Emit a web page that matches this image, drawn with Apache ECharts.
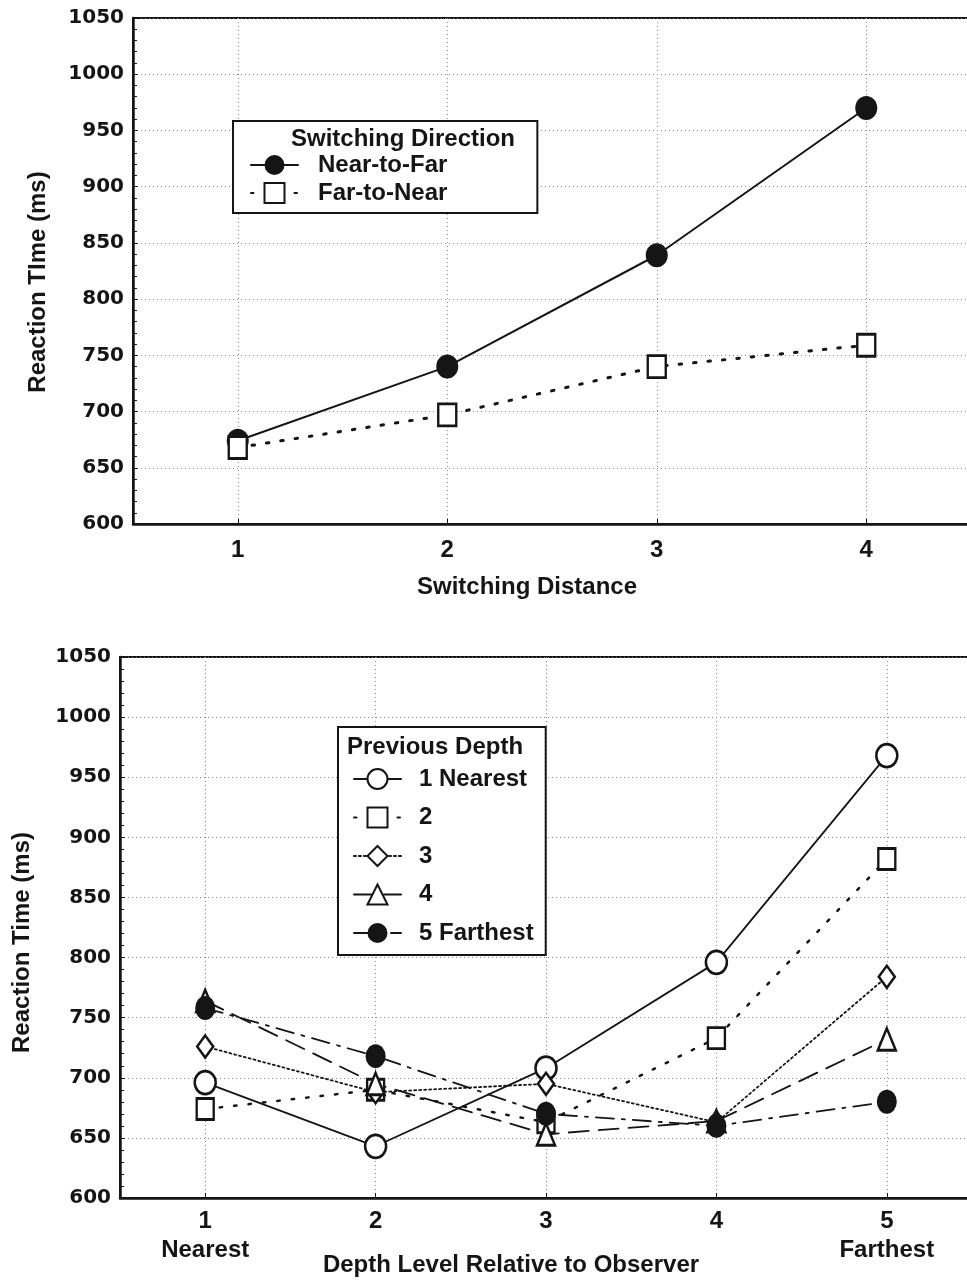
<!DOCTYPE html>
<html><head><meta charset="utf-8">
<script src="https://cdn.jsdelivr.net/npm/echarts@6/dist/echarts.min.js"></script>
<style>html,body{margin:0;padding:0;background:#fff}#c{width:967px;height:1280px}</style>
</head><body><div id="c"></div>
<script>
// ---- data ----
const switchDistances = [1, 2, 3, 4];
const nearToFar = [674, 740, 839, 970];
const farToNear = [668, 697, 740, 759];

const depthLevels = [1, 2, 3, 4, 5];
const depthTickNumbers = ['1', '2', '3', '4', '5'];
const depthTickWords = ['Nearest', '', '', '', 'Farthest'];
const prevDepth1 = [696, 643, 708, 796, 968];
const prevDepth2 = [674, 690, 663, 733, 882];
const prevDepth3 = [726, 688, 695, 663, 784];
const prevDepth4 = [764, 695, 653, 664, 732];
const prevDepth5 = [758, 718, 670, 660, 680];

const topSeriesNames = ['Near-to-Far', 'Far-to-Near'];
const bottomSeriesNames = ['1 Nearest', '2', '3', '4', '5 Farthest'];

// ---- styling ----
const FONT = '"Liberation Sans", Arial, Helvetica, sans-serif';
const NUMFONT = '"DejaVu Sans", "Liberation Sans", sans-serif';
const INK = '#151515';
const txt = (size) => ({ fontFamily: FONT, fontWeight: 'bold', fontSize: size, color: INK });

function pts(xs, ys) { return xs.map((x, i) => [x, ys[i]]); }

function yAxisCfg(gridIndex, name, gap, pad) {
  return {
    gridIndex, type: 'value', min: 600, max: 1050, interval: 50,
    name, nameLocation: 'middle', nameGap: gap, nameMoveOverlap: false,
    nameTextStyle: Object.assign(txt(24), { padding: pad }),
    axisLine: { show: true, lineStyle: { color: INK, width: 2.5 } },
    axisTick: { show: true, inside: true, length: 5, lineStyle: { color: INK, width: 1 } },
    minorTick: { show: true, splitNumber: 5, length: 4, lineStyle: { color: INK, width: 1 } },
    axisLabel: { fontFamily: NUMFONT, fontWeight: 'bold', fontSize: 20, color: INK, margin: 9, formatter: v => String(v) },
    splitLine: { show: true, lineStyle: { color: '#8a8a8a', type: [1, 3], width: 1 } }
  };
}

function xAxisCfg(gridIndex, values, name, gap, pad, formatter, margin) {
  return {
    gridIndex, type: 'value', min: values[0] - 0.5, max: values[values.length - 1] + 0.5,
    name, nameLocation: 'middle', nameGap: gap, nameMoveOverlap: false,
    nameTextStyle: Object.assign(txt(24), { padding: pad }),
    axisLine: { show: true, onZero: false, lineStyle: { color: INK, width: 2.5 } },
    axisTick: { show: true, inside: true, length: 5, customValues: values, lineStyle: { color: INK, width: 1 } },
    axisLabel: Object.assign(txt(24), { customValues: values, formatter, margin, lineHeight: 29 }),
    splitLine: { show: true, lineStyle: { color: '#8a8a8a', type: [1, 3], width: 1 } }
  };
}

function lineSeries(name, xi, data, symbol, size, filled, lineType, lineWidth) {
  return {
    name, type: 'line', xAxisIndex: xi, yAxisIndex: xi, data,
    symbol, symbolSize: size, showAllSymbol: true,
    itemStyle: { color: filled ? INK : '#fff', borderColor: INK, borderWidth: filled ? 0 : 2.6 },
    lineStyle: { color: INK, width: lineWidth, type: lineType, cap: 'round' },
    emphasis: { disabled: true }, animation: false
  };
}

function legendCfg(names, left, top, padding, gap, textPad) {
  return {
    data: names, orient: 'vertical', left, top, padding,
    itemWidth: 47, itemHeight: 25, itemGap: gap,
    backgroundColor: '#fff', borderColor: INK, borderWidth: 2, borderRadius: 0,
    textStyle: Object.assign(txt(24), { padding: [0, 0, 0, textPad] }),
    selectedMode: false, z: 4
  };
}

const chart = echarts.init(document.getElementById('c'), null, { renderer: 'canvas' });
chart.setOption({
  backgroundColor: '#fff',
  animation: false,
  title: [
    { text: 'Switching Direction', left: 291, top: 127, padding: 0, textStyle: txt(24), z: 10 },
    { text: 'Previous Depth', left: 347, top: 735, padding: 0, textStyle: txt(24), z: 10 }
  ],
  legend: [
    legendCfg(topSeriesNames, 233, 121, [32, 90, 8, 17], 4, 15),
    legendCfg(bottomSeriesNames, 338, 727, [40, 12, 10, 15], 14.5, 13)
  ],
  grid: [
    { left: 133, width: 838, top: 18, height: 506, outerBoundsMode: 'none', containLabel: false,
      show: true, borderColor: INK, borderWidth: 2, backgroundColor: 'transparent' },
    { left: 120, width: 852, top: 657, height: 541, outerBoundsMode: 'none', containLabel: false,
      show: true, borderColor: INK, borderWidth: 2, backgroundColor: 'transparent' }
  ],
  xAxis: [
    xAxisCfg(0, switchDistances, 'Switching Distance', 51, [0, 50, 0, 0], v => String(v), 12),
    xAxisCfg(1, depthLevels, 'Depth Level Relative to Observer', 55, [0, 70, 0, 0],
      v => { const i = depthLevels.indexOf(v); return depthTickWords[i] ? depthTickNumbers[i] + '\n' + depthTickWords[i] : depthTickNumbers[i]; }, 9)
  ],
  yAxis: [
    yAxisCfg(0, 'Reaction TIme (ms)', 83, [0, 22, 0, 0]),
    yAxisCfg(1, 'Reaction Time (ms)', 86, [0, 30, 0, 0])
  ],
  series: [
    lineSeries('Near-to-Far', 0, pts(switchDistances, nearToFar), 'circle', [22, 24], true, 'solid', 2),
    lineSeries('Far-to-Near', 0, pts(switchDistances, farToNear), 'rect', [18, 22], false, [2.5, 12], 3),
    lineSeries('1 Nearest', 1, pts(depthLevels, prevDepth1), 'circle', [21, 23], false, 'solid', 1.8),
    lineSeries('2', 1, pts(depthLevels, prevDepth2), 'rect', [17, 21], false, [2.5, 12], 2.5),
    lineSeries('3', 1, pts(depthLevels, prevDepth3), 'diamond', [16, 22], false, [2, 3], 1.8),
    lineSeries('4', 1, pts(depthLevels, prevDepth4), 'triangle', [18, 22], false, [20, 10], 1.8),
    lineSeries('5 Farthest', 1, pts(depthLevels, prevDepth5), 'circle', [20, 24], true, [18, 8, 3, 8], 1.8)
  ]
});
</script>
</body></html>
